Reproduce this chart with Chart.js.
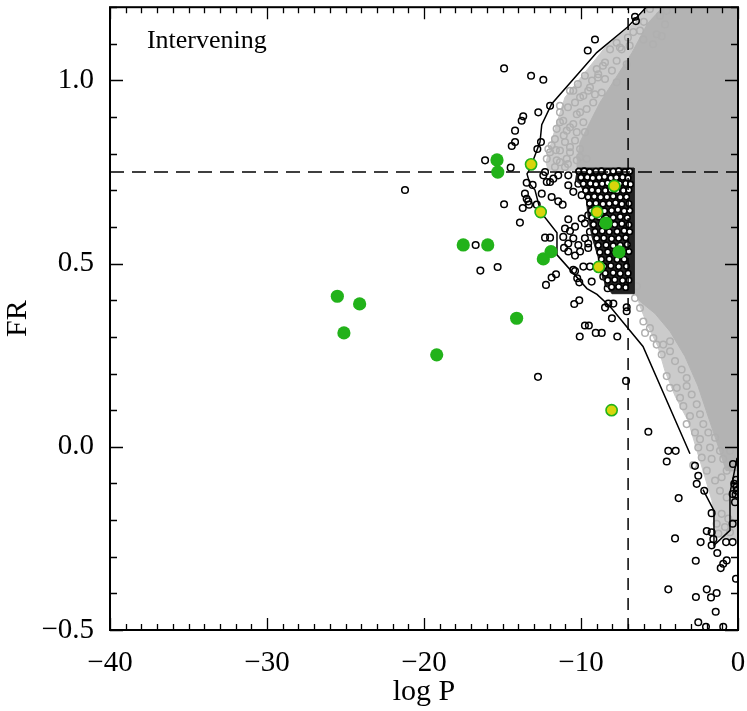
<!DOCTYPE html>
<html>
<head>
<meta charset="utf-8">
<script src="https://cdn.jsdelivr.net/npm/chart.js@4.4.1/dist/chart.umd.min.js"></script>
<style>
html,body{margin:0;padding:0;background:#fff;}
#wrap{width:747px;height:711px;position:relative;}
</style>
</head>
<body>
<div id="wrap"><canvas id="c"></canvas></div>
<script>
// ---------- DATA ----------
const xMajorTicks = [-40, -30, -20, -10, 0];
const yMajorTicks = [-0.5, 0, 0.5, 1.0];
const xRange = [-40, 0];
const yRange = [-0.5, 1.2];
const fractionCut = 0.75;   // horizontal dashed line (FR)
const logPCut = -7;         // vertical dashed line (log P)
const panelLabel = "Intervening";

// green filled circles
const greenPts = [
  [-15.35,0.783],[-15.30,0.750],[-17.50,0.551],[-15.94,0.551],[-25.52,0.411],
  [-24.10,0.390],[-25.10,0.311],[-19.19,0.251],[-14.10,0.351],[-12.40,0.513],
  [-11.91,0.533],[-8.41,0.611],[-7.58,0.532]
];
// yellow circles with green rim
const yellowPts = [
  [-13.18,0.771],[-7.88,0.712],[-12.57,0.641],[-8.98,0.641],[-8.87,0.491],[-8.05,0.100]
];
// black open circles
const blackPts = [
  [-6.56,1.174],[-6.50,1.162],[-9.11,1.112],[-9.57,1.082],[-14.90,1.033],[-13.18,1.013],[-12.40,1.002],
  [-11.97,0.931],[-12.72,0.913],[-13.68,0.902],[-13.78,0.890],[-14.20,0.863],[-14.20,0.832],[-14.41,0.821],
  [-12.55,0.832],[-12.78,0.813],[-16.11,0.782],[-14.48,0.762],[-13.46,0.721],[-13.08,0.715],[-12.40,0.741],
  [-11.97,0.723],[-11.45,0.741],[-10.81,0.741],[-13.57,0.691],[-13.36,0.670],[-12.50,0.691],[-11.87,0.682],
  [-11.45,0.670],[-11.17,0.661],[-14.90,0.662],[-13.71,0.652],[-13.89,0.612],[-10.81,0.621],[-12.29,0.571],
  [-11.97,0.571],[-10.70,0.589],[-21.21,0.701],[-13.31,0.661],[-12.82,0.661],[-16.71,0.551],[-16.41,0.481],
  [-15.31,0.491],[-12.74,0.191],
  [-13.46,0.677],[-12.29,0.750],[-12.18,0.723],[-11.76,0.732],[-10.81,0.714],[-10.49,0.696],[-10.17,0.718],
  [-9.96,0.687],[-11.02,0.596],[-10.38,0.601],[-11.13,0.573],[-10.81,0.555],[-10.49,0.569],[-10.17,0.551],
  [-9.75,0.569],[-9.54,0.555],[-9.43,0.587],[-9.75,0.610],[-9.96,0.623],[-9.54,0.632],[-10.49,0.483],
  [-12.23,0.442],[-11.87,0.462],[-11.59,0.471],[-11.08,0.543],[-10.81,0.533],[-10.38,0.522],[-10.06,0.533],
  [-9.54,0.543],[-9.85,0.492],[-9.43,0.492],[-10.38,0.480],[-10.24,0.460],[-10.11,0.449],[-9.32,0.451],
  [-8.58,0.465],[-8.26,0.446],[-8.30,0.433],[-7.62,0.451],[-7.09,0.442],[-10.43,0.390],[-10.11,0.400],
  [-8.47,0.380],[-8.26,0.391],[-7.94,0.391],[-8.03,0.351],[-7.09,0.381],[-7.09,0.370],[-9.75,0.331],
  [-9.50,0.331],[-10.08,0.301],[-9.06,0.311],[-8.68,0.311],[-7.69,0.301],[-7.13,0.180],
  [-5.71,0.041],[-4.44,-0.011],[-3.97,-0.011],[-4.54,-0.040],[-2.74,-0.052],[-2.53,-0.079],[-2.63,-0.101],
  [-2.15,-0.120],[-3.78,-0.140],[-1.68,-0.181],[-1.99,-0.230],[-1.68,-0.233],[-1.57,-0.252],[-1.68,-0.269],
  [-2.38,-0.260],[-4.01,-0.250],[-0.76,-0.260],[-0.34,-0.260],[-1.32,-0.290],[-2.69,-0.311],[-0.72,-0.310],
  [-0.94,-0.319],[-1.10,-0.331],[-0.13,-0.360],[-4.44,-0.389],[-2.68,-0.410],[-1.99,-0.389],[-1.36,-0.399],
  [-1.72,-0.411],[-1.42,-0.450],[-2.53,-0.479],[-2.04,-0.491],[-0.94,-0.491],[-0.34,-0.129],[-0.34,-0.210],
  [-0.24,-0.101],[-0.19,-0.151],[-0.32,-0.047],[-0.12,-0.090],[-0.10,-0.110],[-0.15,-0.130],[-0.08,-0.120]
];
// black open circles inside the crowded block (drawn with white centres)
const blockPts = [
  [-10.15,0.752],[-9.80,0.753],[-9.45,0.751],[-9.05,0.752],[-8.70,0.753],[-8.30,0.751],[-7.95,0.752],[-7.60,0.753],[-7.20,0.751],[-6.90,0.752],
  [-10.00,0.735],[-9.60,0.736],[-9.25,0.734],[-8.85,0.735],[-8.50,0.737],[-8.10,0.734],[-7.75,0.735],[-7.35,0.736],[-7.00,0.734],
  [-9.85,0.718],[-9.40,0.719],[-9.05,0.717],[-8.65,0.718],[-8.30,0.720],[-7.90,0.717],[-7.55,0.718],[-7.15,0.719],[-6.85,0.717],
  [-9.70,0.700],[-9.30,0.701],[-8.90,0.699],[-8.45,0.700],[-8.10,0.702],[-7.70,0.699],[-7.30,0.700],[-6.95,0.701],
  [-9.55,0.682],[-9.15,0.683],[-8.75,0.681],[-8.35,0.682],[-7.95,0.684],[-7.50,0.681],[-7.10,0.682],
  [-9.45,0.664],[-9.05,0.665],[-8.60,0.663],[-8.20,0.664],[-7.80,0.666],[-7.40,0.663],[-6.95,0.664],
  [-9.35,0.645],[-8.95,0.646],[-8.50,0.644],[-8.05,0.645],[-7.65,0.647],[-7.25,0.644],[-6.90,0.645],
  [-9.30,0.626],[-8.85,0.627],[-8.40,0.625],[-7.95,0.626],[-7.50,0.628],[-7.05,0.625],
  [-9.20,0.607],[-8.70,0.608],[-8.30,0.606],[-7.85,0.607],[-7.40,0.609],[-6.95,0.606],
  [-9.10,0.588],[-8.65,0.589],[-8.20,0.587],[-7.70,0.588],[-7.25,0.590],[-6.90,0.587],
  [-9.00,0.569],[-8.55,0.570],[-8.05,0.568],[-7.60,0.569],[-7.15,0.571],
  [-8.90,0.550],[-8.40,0.551],[-7.95,0.549],[-7.50,0.550],[-7.05,0.552],
  [-8.80,0.531],[-8.30,0.532],[-7.85,0.530],[-7.35,0.531],[-6.95,0.533],
  [-8.70,0.512],[-8.20,0.513],[-7.70,0.511],[-7.25,0.512],
  [-8.55,0.493],[-8.10,0.494],[-7.60,0.492],[-7.10,0.493],
  [-8.45,0.474],[-7.95,0.475],[-7.50,0.473],[-7.00,0.474],
  [-8.30,0.455],[-7.85,0.456],[-7.35,0.454],[-6.95,0.455],
  [-8.05,0.436],[-7.60,0.437],[-7.15,0.435]
];
// outline of the crowded black block
const blockOutline = [
  [-10.25,0.761],[-6.62,0.761],[-6.62,0.418],[-8.03,0.418],[-8.60,0.457],[-8.92,0.519],
  [-9.30,0.573],[-9.55,0.628],[-9.68,0.682],[-10.06,0.717],[-10.38,0.728]
];
// outline of the saturated grey cloud
const greyOutline = [
  [-4.84,1.20],[0,1.20],[0,-0.065],[-0.76,-0.065],[-1.27,0.003],[-1.91,0.084],[-2.55,0.166],
  [-3.38,0.247],[-4.33,0.315],[-5.29,0.364],[-6.24,0.397],[-6.62,0.424],[-6.62,0.758],[-10.25,0.758],
  [-10.25,0.777],[-10.06,0.832],[-9.43,0.886],[-8.79,0.940],[-7.77,1.008],[-6.75,1.076],[-5.73,1.158]
];
// outlines of the thinner (less crowded) grey zones around the cloud
const greyHaloUpper = [
  [-5.92,1.20],[-2.42,1.20],[-2.42,0.755],[-12.10,0.755],[-12.23,0.777],[-11.97,0.818],
  [-11.53,0.886],[-11.02,0.954],[-9.75,1.022],[-8.47,1.090],[-6.56,1.158]
];
const greyHaloLower = [
  [-6.50,0.424],[-6.24,0.383],[-5.73,0.329],[-5.10,0.274],[-4.65,0.207],[-4.01,0.139],[-3.18,0.071],
  [-2.61,-0.011],[-2.23,-0.065],[-1.66,-0.147],[-1.46,-0.242],[0,-0.255],[0,0.424]
];
// grey open circles at the edge of the cloud
const greyPts = [
  [-5.61,1.195],[-4.97,1.177],[-4.65,1.153],[-5.18,1.126],[-6.03,1.112],[-6.67,1.132],[-7.73,1.103],
  [-8.15,1.085],[-7.41,1.085],[-9.00,1.031],[-7.73,1.054],[-7.09,1.044],[-9.75,1.013],[-8.47,1.004],
  [-7.73,0.995],[-10.49,0.972],[-9.54,0.972],[-8.68,0.967],[-11.34,0.931],[-10.38,0.940],[-9.85,0.958],
  [-9.22,0.940],[-11.34,0.913],[-10.27,0.908],[-9.64,0.922],[-11.13,0.890],[-10.49,0.881],[-9.85,0.886],
  [-11.55,0.868],[-10.91,0.863],[-10.27,0.859],[-11.66,0.840],[-11.02,0.832],[-10.38,0.836],[-12.08,0.813],
  [-11.34,0.809],[-10.70,0.804],[-10.06,0.813],[-12.18,0.786],[-11.55,0.782],[-10.91,0.786],[-10.27,0.782],
  [-11.66,0.764],[-11.02,0.764],[-9.64,0.786],[-4.54,1.190],[-5.41,1.099],[-4.86,1.121],[-8.90,1.017],
  [-10.70,0.972],[-11.87,0.823],
  [-7.01,1.117],[-6.24,1.136],[-7.52,1.090],[-8.47,1.049],[-8.03,1.027],[-8.92,1.008],[-9.43,0.981],
  [-10.06,0.954],[-9.11,0.962],[-10.83,0.927],[-10.06,0.913],[-10.70,0.872],[-9.75,0.859],[-11.34,0.886],
  [-11.97,0.804],[-11.34,0.777],[-10.70,0.818],[-10.83,0.772],[-10.06,0.791],[-6.00,1.160],[-6.90,1.095],
  [-8.60,1.040],[-9.30,1.000],[-10.20,0.990],[-11.10,0.850],[-11.60,0.810],
  [-6.45,0.438],[-6.56,0.406],[-6.24,0.379],[-6.03,0.342],[-5.61,0.324],[-5.92,0.311],[-5.39,0.297],
  [-5.18,0.279],[-4.76,0.279],[-4.33,0.288],[-4.86,0.252],[-4.33,0.261],[-4.01,0.234],[-4.54,0.193],
  [-3.59,0.211],[-3.27,0.188],[-4.33,0.161],[-3.90,0.161],[-3.27,0.166],[-2.95,0.143],[-3.69,0.134],
  [-3.48,0.111],[-2.63,0.116],[-3.06,0.084],[-2.42,0.089],[-2.21,0.062],[-3.27,0.062],[-2.74,0.039],
  [-1.89,0.039],[-2.42,0.021],[-1.46,0.025],[-2.53,-0.002],[-1.78,-0.002],[-1.15,-0.011],[-2.31,-0.029],
  [-1.68,-0.033],[-0.94,-0.033],[-0.51,-0.011],[-1.99,-0.065],[-1.46,-0.092],[-1.04,-0.083],[-0.72,-0.065],
  [-1.15,-0.120],[-0.72,-0.138],[-1.04,-0.183],[-0.62,-0.196],[-1.36,-0.210],[-0.83,-0.219],[-1.25,-0.237],
  [-0.51,-0.233],[-0.40,-0.056],[-2.85,-0.050]
];
// envelope curve (two pieces)
const envelopeA = [
  [-5.82,1.201],[-7.03,1.146],[-9.00,1.076],[-11.87,0.936],[-12.50,0.879],[-12.61,0.832],[-13.25,0.759],
  [-13.44,0.745],[-13.25,0.717],[-12.93,0.701],[-12.57,0.641],[-11.53,0.584],[-11.53,0.524],[-9.62,0.432],
  [-8.98,0.416],[-8.15,0.383],[-6.05,0.274],[-3.06,-0.019]
];
const envelopeB = [
  [-2.23,-0.117],[-1.53,-0.174],[-1.53,-0.269],[-0.51,-0.228],[-0.51,-0.125],[-0.32,-0.087],[-0.06,-0.030]
];

// ---------- CHART ----------
const toXY = a => a.map(p => ({x: p[0], y: p[1]}));
const SERIF = "'Liberation Serif', 'DejaVu Serif', serif";
const near = (v, list) => list.some(t => Math.abs(t - v) < 1e-6);
const fmt = (v, d) => (Math.abs(v) < 1e-9 ? (0).toFixed(d) : (v < 0 ? '\u2212' : '') + Math.abs(v).toFixed(d));
const noPad = s => { s.paddingLeft = 0; s.paddingRight = 0; s.paddingTop = 0; s.paddingBottom = 0; };

const axesPlugin = {
  id: 'idlAxes',
  afterDraw(chart) {
    const {ctx, chartArea: a, scales: {x, y}} = chart;
    ctx.save();
    ctx.strokeStyle = '#000';
    ctx.lineWidth = 1.3;
    ctx.beginPath();
    x.ticks.forEach(t => {
      const px = Math.round(x.getPixelForValue(t.value)) + 0.5;
      const L = near(t.value, xMajorTicks) ? 12 : 6;
      ctx.moveTo(px, a.bottom); ctx.lineTo(px, a.bottom - L);
      ctx.moveTo(px, a.top); ctx.lineTo(px, a.top + L);
    });
    y.ticks.forEach(t => {
      const py = Math.round(y.getPixelForValue(t.value)) + 0.5;
      const L = near(t.value, yMajorTicks) ? 13 : 7;
      ctx.moveTo(a.left, py); ctx.lineTo(a.left + L, py);
      ctx.moveTo(a.right, py); ctx.lineTo(a.right - L, py);
    });
    ctx.stroke();
    ctx.lineWidth = 2;
    ctx.strokeRect(a.left, a.top, a.right - a.left, a.bottom - a.top);
    ctx.fillStyle = '#000';
    ctx.font = "26px " + SERIF;
    ctx.textBaseline = 'middle';
    ctx.textAlign = 'left';
    ctx.fillText(panelLabel, x.getPixelForValue(-37.65), y.getPixelForValue(1.106));
    ctx.restore();
  }
};

const openCircle = (data, color, order, extra) => Object.assign({
  type: 'scatter', data: toXY(data), order,
  pointRadius: 3.3, pointBorderWidth: 1.5, pointBorderColor: color,
  pointBackgroundColor: 'rgba(0,0,0,0)', pointHoverRadius: 3.3, showLine: false
}, extra || {});
const area = (data, color, order) => ({
  type: 'line', data: toXY(data), order, borderColor: color, borderWidth: 1,
  backgroundColor: color, pointRadius: 0, fill: 'shape', tension: 0
});

new Chart(document.getElementById('c'), {
  type: 'scatter',
  data: {
    datasets: [
      { type: 'scatter', data: toXY(yellowPts), order: 1, pointRadius: 5.6, pointBorderWidth: 1.6,
        pointBorderColor: '#22b21a', pointBackgroundColor: '#d8d50c' },
      { type: 'scatter', data: toXY(greenPts), order: 2, pointRadius: 6.6, pointBorderWidth: 0,
        pointBackgroundColor: '#22b21a', pointBorderColor: '#22b21a' },
      { type: 'line', data: toXY([[xRange[0], fractionCut], [xRange[1], fractionCut]]), order: 3,
        borderColor: '#000', borderWidth: 1.5, borderDash: [14, 8], pointRadius: 0, fill: false },
      { type: 'line', data: toXY([[logPCut, yRange[0]], [logPCut, yRange[1]]]), order: 3,
        borderColor: '#000', borderWidth: 1.5, borderDash: [12, 8], pointRadius: 0, fill: false },
      { type: 'line', data: toXY(envelopeA), order: 4, borderColor: '#000', borderWidth: 1.5,
        pointRadius: 0, fill: false, tension: 0 },
      { type: 'line', data: toXY(envelopeB), order: 4, borderColor: '#000', borderWidth: 1.5,
        pointRadius: 0, fill: false, tension: 0 },
      openCircle(blockPts, '#000', 5, { pointBackgroundColor: '#fff', pointRadius: 2.8, pointBorderWidth: 1.6 }),
      area(blockOutline, '#222', 6),
      openCircle(blackPts, '#000', 7),
      openCircle(greyPts, '#b0b0b0', 8),
      area(greyOutline, '#b3b3b3', 9),
      area(greyHaloUpper, '#cbcbcb', 10),
      area(greyHaloLower, '#cbcbcb', 10)
    ]
  },
  options: {
    responsive: true,
    maintainAspectRatio: false,
    animation: false,
    events: [],
    layout: { padding: { top: 4, right: 9, left: 0, bottom: 0 } },
    plugins: { legend: { display: false }, tooltip: { enabled: false } },
    scales: {
      x: {
        type: 'linear', min: xRange[0], max: xRange[1],
        grid: { display: false }, border: { display: false },
        ticks: {
          stepSize: 1, autoSkip: false, maxRotation: 0, color: '#000', padding: 8,
          font: { family: SERIF, size: 29 },
          callback: v => near(v, xMajorTicks) ? fmt(v, 0) : ''
        },
        title: { display: true, text: 'log P', color: '#000', font: { family: SERIF, size: 30 },
                 padding: { top: 0, bottom: 1 } },
        afterFit: s => { s.height = 81; noPad(s); }
      },
      y: {
        type: 'linear', min: yRange[0], max: yRange[1],
        grid: { display: false }, border: { display: false },
        ticks: {
          stepSize: 0.1, autoSkip: false, color: '#000', padding: 8,
          font: { family: SERIF, size: 29 },
          callback: v => near(v, yMajorTicks) ? fmt(v, 1) : ''
        },
        title: { display: true, text: 'FR', color: '#000', font: { family: SERIF, size: 30 },
                 padding: { top: 0, bottom: 0 } },
        afterFit: s => { s.width = 110; noPad(s); }
      }
    }
  },
  plugins: [axesPlugin]
});
</script>
</body>
</html>
